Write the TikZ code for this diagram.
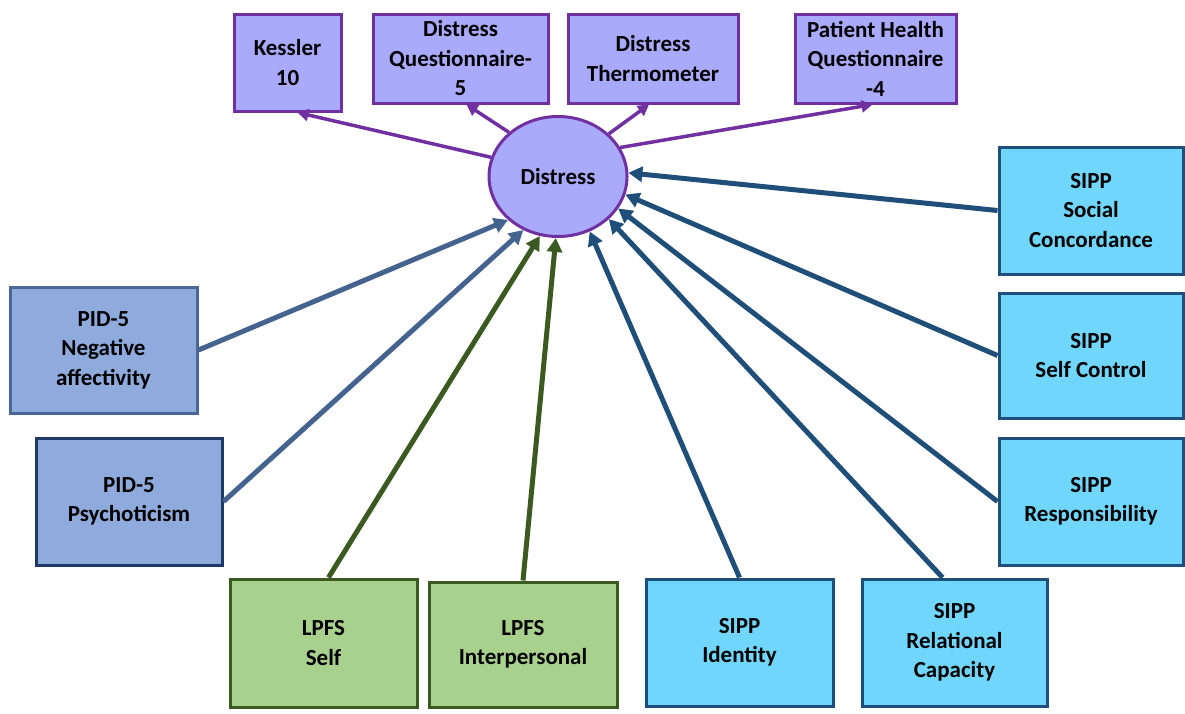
\documentclass[tikz,border=0pt]{standalone}
\usepackage{fontspec}
\setmainfont{Carlito}
\usetikzlibrary{arrows.meta,shapes.geometric}
\definecolor{lav}{HTML}{AAAAFC}
\definecolor{purp}{HTML}{7030A0}
\definecolor{pidfill}{HTML}{8FAADC}
\definecolor{pidline}{HTML}{4A6894}
\definecolor{pidnavy}{HTML}{203864}
\definecolor{pidarrow}{HTML}{44638F}
\definecolor{sippfill}{HTML}{70D6FC}
\definecolor{sippline}{HTML}{1F4E79}
\definecolor{lpfsfill}{HTML}{A9D18E}
\definecolor{lpfsline}{HTML}{3B5A22}
\begin{document}
\begin{tikzpicture}[x=1pt,y=-1pt,
  every node/.style={font=\fontsize{23}{29.5}\selectfont\bfseries, align=center, line width=3pt, inner sep=0pt},
  measure/.style={draw=purp, fill=lav},
  pidbox/.style={draw=pidline, fill=pidfill},
  sippbox/.style={draw=sippline, fill=sippfill},
  lpfsbox/.style={draw=lpfsline, fill=lpfsfill},
  outarrow/.style={draw=purp, line width=3.5pt, -{Triangle[length=11pt,width=12pt]}},
  inarrow/.style={line width=5pt, -{Triangle[length=14pt,width=15pt]}}
]
\useasboundingbox (0,0) rectangle (1185,713);

% latent variable
\node[ellipse, draw=purp, fill=lav, minimum width=138pt, minimum height=120pt] (dist) at (558,176.5) {Distress};

% indicators
\node[measure, minimum width=107pt, minimum height=97pt] (kessler) at (287.5,62.5) {Kessler\\10};
\node[measure, minimum width=175pt, minimum height=89pt] (dq) at (460.5,58.5) {Distress\\Questionnaire-\\5};
\node[measure, minimum width=170pt, minimum height=89pt] (dt) at (653,58.5) {Distress\\Thermometer};
\node[measure, minimum width=161pt, minimum height=89pt] (phq) at (875.5,58.5) {Patient Health\\Questionnaire\\-4};

% PID-5 predictors
\node[pidbox, minimum width=187pt, minimum height=126pt] (pidna) at (103.5,350) {PID-5\\Negative\\affectivity};
\node[pidbox, draw=pidnavy, minimum width=186pt, minimum height=127pt] (pidps) at (129,501.5) {PID-5\\Psychoticism};

% LPFS predictors
\node[lpfsbox, minimum width=187pt, minimum height=128pt] (lself) at (323.5,643) {LPFS\\Self};
\node[lpfsbox, minimum width=188pt, minimum height=125pt] (linter) at (523,644.5) {LPFS\\Interpersonal};

% SIPP predictors
\node[sippbox, minimum width=187pt, minimum height=127pt] (sid) at (739.5,642.5) {SIPP\\Identity};
\node[sippbox, minimum width=185pt, minimum height=127pt] (srel) at (954.5,642.5) {SIPP\\Relational\\Capacity};
\node[sippbox, minimum width=184pt, minimum height=127pt] (sresp) at (1091,501.5) {SIPP\\Responsibility};
\node[sippbox, minimum width=184pt, minimum height=125pt] (sctrl) at (1091,355.5) {SIPP\\Self Control};
\node[sippbox, minimum width=184pt, minimum height=127pt] (ssoc) at (1091,210.5) {SIPP\\Social\\Concordance};

% loadings
\draw[outarrow] (dist.164) -- ([xshift=10pt]kessler.south);
\draw[outarrow] (dist.138) -- ([xshift=6pt]dq.south);
\draw[outarrow] (dist.40) -- ([xshift=-4pt]dt.south);
\draw[outarrow] (dist.25) -- ([xshift=-3pt]phq.south);

% regressions
\draw[inarrow, pidarrow] (pidna.east) -- (dist.-139);
\draw[inarrow, pidarrow] (pidps.east) -- (dist.-123);
\draw[inarrow, lpfsline] ([xshift=5pt]lself.north) -- (dist.-107);
\draw[inarrow, lpfsline] (linter.north) -- (dist.-92);
\draw[inarrow, sippline] (sid.north) -- (dist.-60);
\draw[inarrow, sippline] ([xshift=-12pt]srel.north) -- (dist.-40);
\draw[inarrow, sippline] (sresp.west) -- (dist.-28);
\draw[inarrow, sippline] (sctrl.west) -- (dist.-15);
\draw[inarrow, sippline] (ssoc.west) -- (dist.3);
\end{tikzpicture}
\end{document}
